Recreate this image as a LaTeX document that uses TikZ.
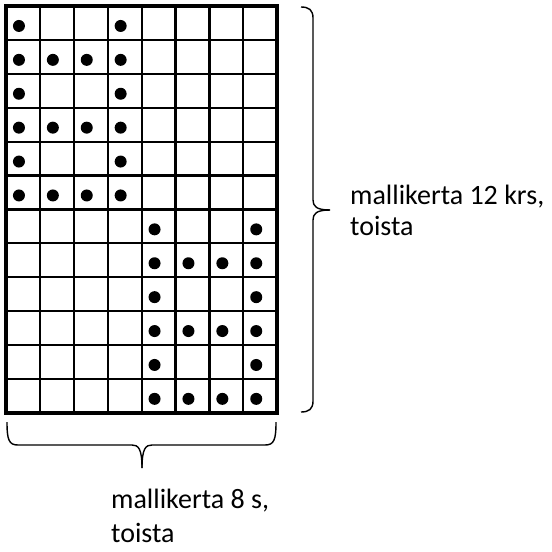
\documentclass[tikz,border=0pt]{standalone}
\usepackage{fontspec}
\setmainfont{Carlito}
\begin{document}
\begin{tikzpicture}[x=1pt,y=-1pt,
  gridline/.style={line width=2.2pt},
  border/.style={line width=3.5pt},
  bracepath/.style={line width=1.4pt},
  dot/.style={fill=black},
  label/.style={anchor=base west,inner sep=0pt,font=\fontsize{28}{33}\selectfont}]
\useasboundingbox (0,0) rectangle (552,552);
\def\cs{33.9}
\foreach \i in {1,...,7} \draw[gridline] ({6+\i*\cs},6) -- ({6+\i*\cs},{6+12*\cs});
\foreach \j in {1,...,11} \draw[gridline] (6,{6+\j*\cs}) -- ({6+8*\cs},{6+\j*\cs});
\draw[border] (6,6) rectangle ({6+8*\cs},{6+12*\cs});
\foreach \c/\r in {1/1,4/1,1/2,2/2,3/2,4/2,1/3,4/3,1/4,2/4,3/4,4/4,1/5,4/5,1/6,2/6,3/6,4/6,
  5/7,8/7,5/8,6/8,7/8,8/8,5/9,8/9,5/10,6/10,7/10,8/10,5/11,8/11,5/12,6/12,7/12,8/12}
  \fill[dot] ({6+(\c-0.5)*\cs-4},{6+(\r-0.5)*\cs+3}) circle[radius=6pt];
% right brace
\coordinate (rtip) at (330,210);
\draw[bracepath] (301,7) .. controls (309,7) and (313,10) .. (313,18) -- (313,200) .. controls (313,206) and (316,210) .. (rtip);
\draw[bracepath] (301,412) .. controls (309,412) and (313,409) .. (313,401) -- (313,220) .. controls (313,214) and (316,210) .. (rtip);
% bottom brace
\coordinate (btip) at (142,468);
\draw[bracepath] (7,422) .. controls (7,440) and (9,445) .. (18,445) -- (132,445) .. controls (138,445) and (142,448) .. (btip);
\draw[bracepath] (276,422) .. controls (276,440) and (274,445) .. (265,445) -- (152,445) .. controls (146,445) and (142,448) .. (btip);
% labels
\node[label] (r1) at (350,204) {mallikerta 12 krs,};
\node[label] (r2) at (350,235) {toista};
\node[label] (b1) at (111,508) {mallikerta 8 s,};
\node[label] (b2) at (111,542) {toista};
\end{tikzpicture}
\end{document}
